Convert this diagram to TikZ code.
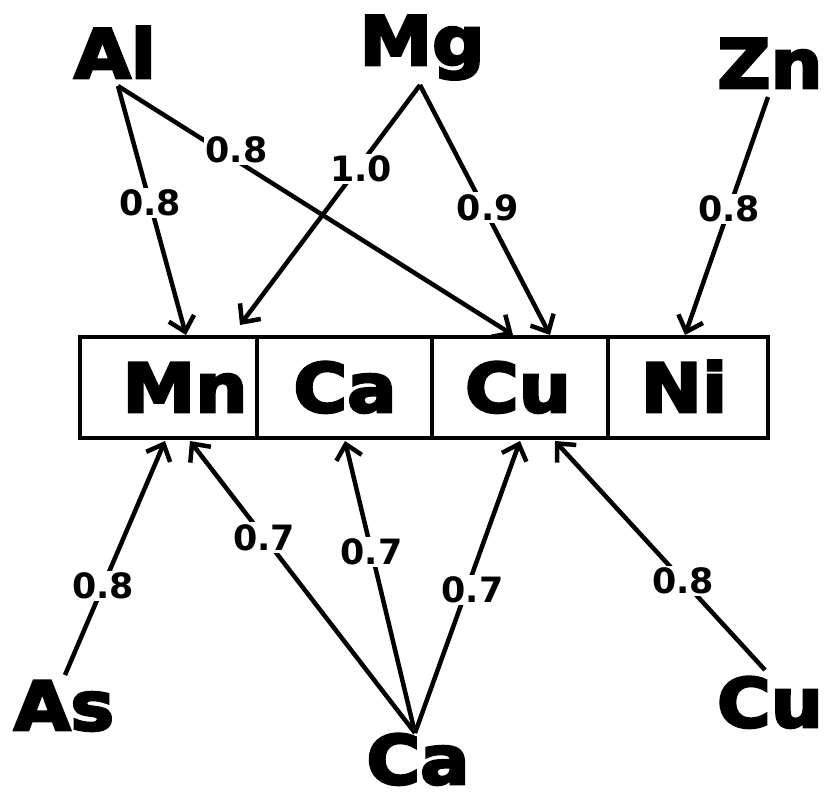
\documentclass[tikz,border=0pt]{standalone}
\usepackage{fontspec}
\setmainfont{DejaVu Sans}
\newfontfamily\elemfont[FakeBold=4, FakeStretch=1.08]{DejaVu Sans Bold}
\usetikzlibrary{arrows.meta}

\begin{document}
\begin{tikzpicture}[x=1bp,y=-1bp,
  elem/.style={font=\elemfont\fontsize{68}{68}\selectfont, inner sep=0pt, text depth=0pt, anchor=base},
  cell/.style={draw, line width=4.5bp, minimum height=101bp, inner sep=0pt},
  link/.style={line width=4.5bp, -{Straight Barb[length=14bp,width=26bp]}},
  lbl/.style={font=\bfseries\fontsize{35}{35}\selectfont, fill=white, inner sep=2bp}]

\useasboundingbox (0,0) rectangle (826,796);

% row of four cells
\node[cell, minimum width=177bp] (c1) at (168.5,387.5) {};
\node[cell, minimum width=175bp] (c2) at (344.5,387.5) {};
\node[cell, minimum width=176bp] (c3) at (520,387.5) {};
\node[cell, minimum width=160bp] (c4) at (688,387.5) {};

\node[elem] (mn) at (185,412) {Mn};
\node[elem] (ca) at (345,412) {Ca};
\node[elem] (cu) at (518,412) {Cu};
\node[elem] (ni) at (684,412) {Ni};

% outer elements
\node[elem] (al)  at (115,78)  {Al};
\node[elem] (mg)  at (422,65)  {Mg};
\node[elem] (zn)  at (770,88)  {Zn};
\node[elem] (as)  at (64,730)  {As};
\node[elem] (cab) at (418,784) {Ca};
\node[elem] (cub) at (770,727) {Cu};

% connector ends
\coordinate (al-o)  at (118,86);
\coordinate (mg-o)  at (420,85);
\coordinate (zn-o)  at (768,97);
\coordinate (as-o)  at (65,675);
\coordinate (cab-o) at (415,733);
\coordinate (cub-o) at (765,670);

\coordinate (mn-t1) at (186,335);
\coordinate (mn-t2) at (240,325);
\coordinate (cu-t1) at (513,335);
\coordinate (cu-t2) at (550,335);
\coordinate (ni-t)  at (685,335);
\coordinate (mn-b1) at (165,441);
\coordinate (mn-b2) at (190,441);
\coordinate (ca-b)  at (345,441);
\coordinate (cu-b1) at (520,441);
\coordinate (cu-b2) at (555,441);

% links from above
\draw[link] (al-o) -- node[lbl, pos=.47] {0.8} (mn-t1);
\draw[link] (al-o) -- node[lbl, pos=.30, yshift=11bp] {0.8} (cu-t1);
\draw[link] (mg-o) -- node[lbl, pos=.35, xshift=4bp] {1.0} (mn-t2);
\draw[link] (mg-o) -- node[lbl, pos=.49, xshift=4bp] {0.9} (cu-t2);
\draw[link] (zn-o) -- node[lbl, pos=.47] {0.8} (ni-t);

% links from below
\draw[link] (as-o)  -- node[lbl, pos=.38] {0.8} (mn-b1);
\draw[link] (cab-o) -- node[lbl, pos=.67] {0.7} (mn-b2);
\draw[link] (cab-o) -- node[lbl, pos=.62] {0.7} (ca-b);
\draw[link] (cab-o) -- node[lbl, pos=.49, xshift=6bp] {0.7} (cu-b1);
\draw[link] (cub-o) -- node[lbl, pos=.39] {0.8} (cu-b2);
\end{tikzpicture}
\end{document}
